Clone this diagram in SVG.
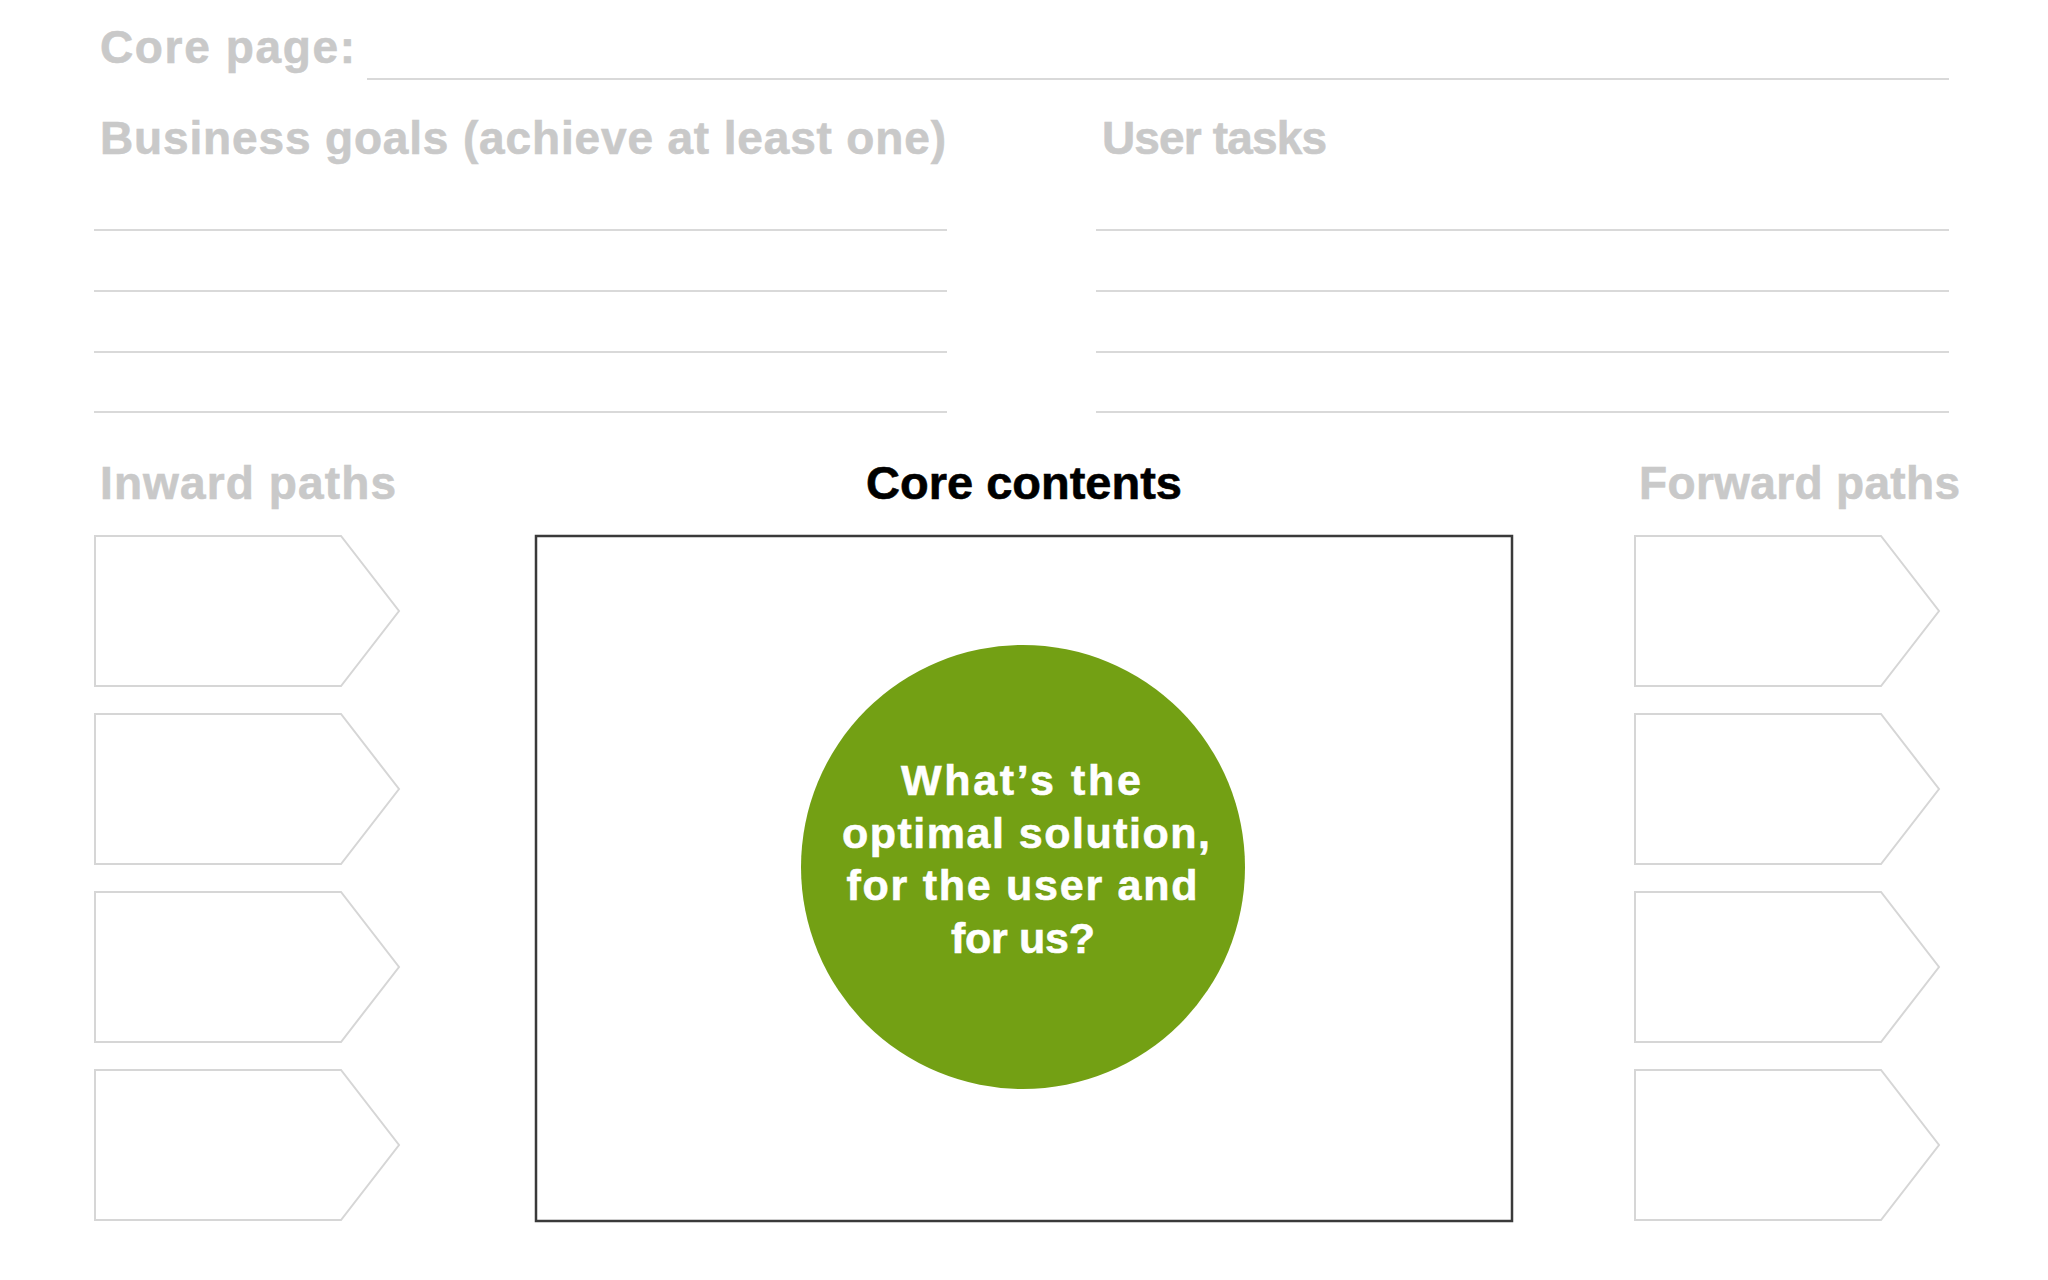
<svg xmlns="http://www.w3.org/2000/svg" width="2048" height="1280" viewBox="0 0 2048 1280">
<style>
.h{font-family:"Liberation Sans",Arial,sans-serif;font-weight:bold;font-size:46px;fill:#c9c9c9;stroke:#c9c9c9;stroke-width:0.6}
.hk{font-family:"Liberation Sans",Arial,sans-serif;font-weight:bold;font-size:47px;fill:#000000;stroke:#000000;stroke-width:0.6}
.rule{stroke:#d9d9d9;stroke-width:2;fill:none}
.tag{stroke:#d6d6d6;stroke-width:2;fill:#ffffff}
.q{font-family:"Liberation Sans",Arial,sans-serif;font-weight:bold;font-size:43px;fill:#ffffff;stroke:#ffffff;stroke-width:0.6;text-anchor:middle}
</style>
<defs>
<polygon id="tagL" points="0,0 246,0 304,75 246,150 0,150"/>
</defs>
<rect width="2048" height="1280" fill="#ffffff"/>
<g id="header">
<text class="h" x="100" y="63" textLength="255" lengthAdjust="spacing">Core page:</text>
<line class="rule" x1="367" y1="79" x2="1949" y2="79"/>
</g>
<g id="business-goals">
<text class="h" x="100" y="154" textLength="846" lengthAdjust="spacing">Business goals (achieve at least one)</text>
<line class="rule" x1="94" y1="230" x2="947" y2="230"/>
<line class="rule" x1="94" y1="291" x2="947" y2="291"/>
<line class="rule" x1="94" y1="352" x2="947" y2="352"/>
<line class="rule" x1="94" y1="412" x2="947" y2="412"/>
</g>
<g id="user-tasks">
<text class="h" x="1102" y="154" textLength="225" lengthAdjust="spacing">User tasks</text>
<line class="rule" x1="1096" y1="230" x2="1949" y2="230"/>
<line class="rule" x1="1096" y1="291" x2="1949" y2="291"/>
<line class="rule" x1="1096" y1="352" x2="1949" y2="352"/>
<line class="rule" x1="1096" y1="412" x2="1949" y2="412"/>
</g>
<g id="inward-paths">
<text class="h" x="100" y="499" textLength="296" lengthAdjust="spacing">Inward paths</text>
<use href="#tagL" class="tag" x="95" y="536"/>
<use href="#tagL" class="tag" x="95" y="714"/>
<use href="#tagL" class="tag" x="95" y="892"/>
<use href="#tagL" class="tag" x="95" y="1070"/>
</g>
<g id="forward-paths">
<text class="h" x="1639" y="499" textLength="321" lengthAdjust="spacing">Forward paths</text>
<use href="#tagL" class="tag" x="1635" y="536"/>
<use href="#tagL" class="tag" x="1635" y="714"/>
<use href="#tagL" class="tag" x="1635" y="892"/>
<use href="#tagL" class="tag" x="1635" y="1070"/>
</g>
<g id="core-contents">
<text class="hk" x="866" y="499" textLength="316" lengthAdjust="spacing">Core contents</text>
<rect x="536" y="536" width="976" height="685" fill="#ffffff" stroke="#3a3a3a" stroke-width="2.5"/>
</g>
<g id="question">
<circle cx="1023" cy="867" r="222" fill="#73a014"/>
<text class="q" x="1021" y="795" textLength="240" lengthAdjust="spacing">What’s the</text>
<text class="q" x="1026" y="848" textLength="368" lengthAdjust="spacing">optimal solution,</text>
<text class="q" x="1022" y="900" textLength="351" lengthAdjust="spacing">for the user and</text>
<text class="q" x="1023" y="953" textLength="144" lengthAdjust="spacing">for us?</text>
</g>
<g id="connectors"/>
</svg>
